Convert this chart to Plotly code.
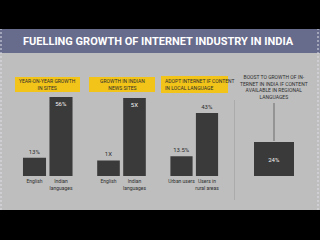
import plotly.graph_objects as go

W, H = 320, 240

title_text = "FUELLING GROWTH OF INTERNET INDUSTRY IN INDIA"

p1_cats = ["English", "Indian<br>languages"]
p1_vals = [13, 56]
p1_text = ["13%", "56%"]
p1_head = "YEAR-ON-YEAR GROWTH<br>IN SITES"

p2_cats = ["English", "Indian<br>languages"]
p2_vals = [1, 5]
p2_text = ["1X", "5X"]
p2_head = "GROWTH IN INDIAN<br>NEWS SITES"

p3_cats = ["Urban users", "Users in<br>rural areas"]
p3_vals = [13.5, 43]
p3_text = ["13.5%", "43%"]
p3_head = "ADOPT INTERNET IF CONTENT<br>IN LOCAL LANGUAGE"

p4_cats = [""]
p4_vals = [24]
p4_text = ["24%"]
p4_head = "BOOST TO GROWTH OF IN-<br>TERNET IN INDIA IF CONTENT<br>AVAILABLE IN REGIONAL<br>LANGUAGES"

BAR = "#3a3a3a"
YEL = "#f2c318"
BG = "#bebebe"
TXT = "#2e2e2e"

def px(x):
    return x / W

def py(y):
    return 1 - y / H

fig = go.Figure()

panels = [
    (p1_cats, p1_vals, p1_text, (21.25, 74.25), 70.9, ["outside", "inside"], 0.87),
    (p2_cats, p2_vals, p2_text, (95.5, 147.5), 6.41, ["outside", "inside"], 0.87),
    (p3_cats, p3_vals, p3_text, (168.75, 219.75), 68.3, ["outside", "outside"], 0.87),
    (p4_cats, p4_vals, p4_text, (250, 298), 70.6, ["inside"], 40 / 48),
]

ybottom, ytop = 176, 76
layout_axes = {}
for i, (cats, vals, texts, (x0, x1), rng, tpos, width) in enumerate(panels):
    n = "" if i == 0 else str(i + 1)
    colors = ["#f2f2f2" if p == "inside" else TXT for p in tpos]
    fig.add_trace(go.Bar(
        x=cats, y=vals, text=texts, textposition=tpos,
        insidetextanchor="end" if i < 3 else "middle",
        textfont=dict(size=6, color=colors, family="Roboto"),
        marker=dict(color=BAR, line=dict(width=0)),
        width=width, cliponaxis=False,
        xaxis="x" + n, yaxis="y" + n, showlegend=False,
        hoverinfo="skip",
    ))
    layout_axes["xaxis" + n] = dict(
        domain=[px(x0), px(x1)], anchor="y" + n,
        showgrid=False, zeroline=False, showline=False,
        tickfont=dict(size=5, color=TXT, family="Roboto"),
        ticks="", showticklabels=(i < 3), tickangle=0, ticklabelstandoff=1,
    )
    layout_axes["yaxis" + n] = dict(
        domain=[py(ybottom), py(ytop)], anchor="x" + n, range=[0, rng],
        visible=False,
    )

fig.update_layout(**layout_axes)

shapes = [
    dict(type="rect", xref="paper", yref="paper", x0=0, x1=1, y0=py(210), y1=py(29),
         fillcolor=BG, line=dict(width=0), layer="below"),
    dict(type="rect", xref="paper", yref="paper", x0=0, x1=1, y0=py(53), y1=py(29),
         fillcolor="#676b8c", line=dict(width=0), layer="below"),
    dict(type="rect", xref="paper", yref="paper", x0=px(15), x1=px(80), y0=py(92), y1=py(77),
         fillcolor=YEL, line=dict(width=0), layer="below"),
    dict(type="rect", xref="paper", yref="paper", x0=px(89), x1=px(155), y0=py(92), y1=py(77),
         fillcolor=YEL, line=dict(width=0), layer="below"),
    dict(type="rect", xref="paper", yref="paper", x0=px(161), x1=px(228), y0=py(93), y1=py(76),
         fillcolor=YEL, line=dict(width=0), layer="below"),
    dict(type="line", xref="paper", yref="paper", x0=px(234.5), x1=px(234.5), y0=py(200), y1=py(100),
         line=dict(color="#ababab", width=1), layer="below"),
    dict(type="line", xref="paper", yref="paper", x0=px(274), x1=px(274), y0=py(141), y1=py(103),
         line=dict(color="#6a6a6a", width=1)),
    dict(type="line", xref="paper", yref="paper", x0=px(1), x1=px(1), y0=py(210), y1=py(29),
         line=dict(color="#e0e0e8", width=1, dash="2px,2px")),
    dict(type="line", xref="paper", yref="paper", x0=px(318), x1=px(318), y0=py(210), y1=py(29),
         line=dict(color="#e0e0e8", width=1, dash="2px,2px")),
]

annotations = [
    dict(text="<b>" + title_text + "</b>", x=px(158), y=py(41), xref="paper", yref="paper",
         showarrow=False, font=dict(size=11, color="white", family="Roboto"),
         xanchor="center", yanchor="middle"),
    dict(text=p1_head, x=px(47.5), y=py(84.5), xref="paper", yref="paper", showarrow=False,
         font=dict(size=5, color=TXT, family="Roboto"), xanchor="center", yanchor="middle"),
    dict(text=p2_head, x=px(122), y=py(84.5), xref="paper", yref="paper", showarrow=False,
         font=dict(size=5, color=TXT, family="Roboto"), xanchor="center", yanchor="middle"),
    dict(text=p3_head, x=px(163), y=py(84.5), xref="paper", yref="paper", showarrow=False,
         font=dict(size=5, color=TXT, family="Roboto"), xanchor="left", yanchor="middle", align="left"),
    dict(text=p4_head, x=px(274), y=py(87), xref="paper", yref="paper", showarrow=False,
         font=dict(size=5, color=TXT, family="Roboto"), xanchor="center", yanchor="middle"),
]

fig.update_layout(
    width=W, height=H, margin=dict(l=0, r=0, t=0, b=0),
    paper_bgcolor="black", plot_bgcolor="rgba(0,0,0,0)",
    shapes=shapes, annotations=annotations, bargap=0.1,
    uniformtext=dict(minsize=1),
)

fig.write_html("out.html", config=dict(displayModeBar=False))
